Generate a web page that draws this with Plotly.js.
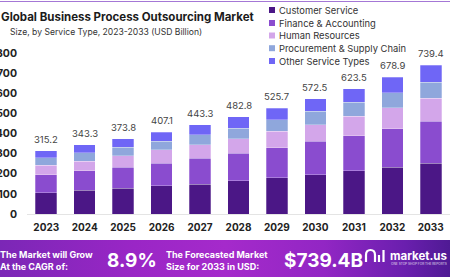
<!DOCTYPE html>
<html>
<head>
<meta charset="utf-8">
<script src="https://cdn.plot.ly/plotly-3.0.1.min.js"></script>
<style>
  html, body { margin: 0; padding: 0; background: #ffffff; }
  #chart {
    width: 450px; height: 280px; position: relative;
    background:
      linear-gradient(90deg, #7b27b6 0%, #9a26c6 30%, #a52acb 50%, #9226c4 72%, #6a1fae 90%, #4f1a94 100%) 0 240px / 100% 37px no-repeat,
      #ffffff;
  }
</style>
</head>
<body>
<div id="chart"></div>
<script>
// Market size by service type, USD billion
const years = ['2023','2024','2025','2026','2027','2028','2029','2030','2031','2032','2033'];
const customerService   = [106, 119, 128, 140, 149, 165, 181, 195, 214, 232, 251];
const financeAccounting = [88, 96, 105, 113, 128, 136, 149, 166, 176, 192, 210];
const humanResources    = [48, 48, 57, 66, 68, 73, 80, 83, 95, 104, 113];
const procurementSupply = [38, 41, 41, 43, 48, 53, 58, 66, 70, 75, 81];
const otherServices     = [35.2, 39.3, 42.8, 45.1, 50.3, 55.8, 57.7, 62.5, 68.5, 75.9, 84.4];

const seriesNames  = ['Customer Service', 'Finance & Accounting', 'Human Resources',
                      'Procurement & Supply Chain', 'Other Service Types'];
const seriesValues = [customerService, financeAccounting, humanResources, procurementSupply, otherServices];
const seriesColors = ['#4b1786', '#8a4ccf', '#d3a6ea', '#8fa7dc', '#6f66f6'];

const yTicks = [0, 100, 200, 300, 400, 500, 600, 700, 800];

// Stack totals shown above each bar
const totals = years.map((_, i) => seriesValues.reduce((s, arr) => s + arr[i], 0));

// Page geometry (pixels) -> paper coordinates
const W = 450, H = 280, ML = 27, MR = 0, MT = 53, MB = 66;
const PW = W - ML - MR, PH = H - MT - MB;
const px = x => (x - ML) / PW;
const py = y => (H - MB - y) / PH;

const FONT = 'Inter, "Open Sans", sans-serif';

const traces = seriesNames.map((name, k) => ({
  type: 'bar',
  name: name,
  x: years,
  y: seriesValues[k],
  marker: { color: seriesColors[k], line: { color: 'rgba(255,255,255,0.45)', width: 0.6 } },
  hoverinfo: 'x+y+name',
  showlegend: false
}));

const annotations = [];
const shapes = [];

// Total value labels (category axis: positioned by category index)
years.forEach((yr, i) => {
  annotations.push({
    x: i, y: totals[i], xref: 'x', yref: 'y',
    text: totals[i].toFixed(1), showarrow: false,
    yanchor: 'bottom', yshift: 4,
    font: { family: FONT, size: 9.5, color: '#444444' }
  });
});

// Title and subtitle
annotations.push({
  x: px(-1), y: py(17), xref: 'paper', yref: 'paper', xanchor: 'left', yanchor: 'middle',
  text: '<b>Global Business Process Outsourcing Market</b>', showarrow: false,
  font: { family: FONT, size: 11.5, color: '#1b1b1b' }
});
annotations.push({
  x: px(8), y: py(32), xref: 'paper', yref: 'paper', xanchor: 'left', yanchor: 'middle',
  text: 'Size, by Service Type, 2023-2033 (USD Billion)', showarrow: false,
  font: { family: FONT, size: 8.6, color: '#333333' }
});

// Legend drawn as swatches + labels
const legendY = [10, 23, 35.5, 48.2, 61];
seriesNames.forEach((name, k) => {
  const cy = legendY[k];
  shapes.push({
    type: 'rect', xref: 'paper', yref: 'paper',
    x0: px(269), x1: px(275), y0: py(cy + 3), y1: py(cy - 3),
    fillcolor: seriesColors[k], line: { width: 0 }
  });
  annotations.push({
    x: px(277), y: py(cy), xref: 'paper', yref: 'paper', xanchor: 'left', yanchor: 'middle',
    text: name, showarrow: false,
    font: { family: FONT, size: 9.4, color: '#333333' }
  });
});

// Thin accent line across the top
shapes.push({
  type: 'line', xref: 'paper', yref: 'paper',
  x0: px(0), x1: px(450), y0: py(1.5), y1: py(1.5),
  line: { color: '#a477d6', width: 1.2 }
});

// Bottom banner texts
const bannerWhite = c => ({ family: FONT, size: c, color: '#ffffff' });
annotations.push({
  x: px(-2), y: py(260), xref: 'paper', yref: 'paper', xanchor: 'left', yanchor: 'middle',
  text: '<b>The Market will Grow<br>At the CAGR of:</b>', showarrow: false, align: 'left',
  font: bannerWhite(9)
});
annotations.push({
  x: px(131.5), y: py(260), xref: 'paper', yref: 'paper', xanchor: 'center', yanchor: 'middle',
  text: '<b>8.9%</b>', showarrow: false, font: bannerWhite(19)
});
annotations.push({
  x: px(164), y: py(260), xref: 'paper', yref: 'paper', xanchor: 'left', yanchor: 'middle',
  text: '<b>The Forecasted Market<br>Size for 2033 in USD:</b>', showarrow: false, align: 'left',
  font: bannerWhite(9)
});
annotations.push({
  x: px(282), y: py(260), xref: 'paper', yref: 'paper', xanchor: 'left', yanchor: 'middle',
  text: '<b>$739.4B</b>', showarrow: false, font: bannerWhite(19)
});
annotations.push({
  x: px(388), y: py(256), xref: 'paper', yref: 'paper', xanchor: 'left', yanchor: 'middle',
  text: '<b>market.us</b>', showarrow: false, font: bannerWhite(11.5)
});
annotations.push({
  x: px(389), y: py(263.5), xref: 'paper', yref: 'paper', xanchor: 'left', yanchor: 'middle',
  text: 'ONE STOP SHOP FOR THE REPORTS', showarrow: false,
  font: { family: FONT, size: 3.2, color: 'rgba(255,255,255,0.85)' }
});

// market.us logo mark: arch plus two bars
shapes.push({
  type: 'path', xref: 'paper', yref: 'paper',
  path: `M ${px(366)} ${py(262)} L ${px(366)} ${py(255)} Q ${px(366)} ${py(250)} ${px(370.5)} ${py(250)} Q ${px(375)} ${py(250)} ${px(375)} ${py(255)} L ${px(375)} ${py(262)}`,
  line: { color: '#ffffff', width: 2.2 }, fillcolor: 'rgba(0,0,0,0)'
});
shapes.push({ type: 'line', xref: 'paper', yref: 'paper', x0: px(379), x1: px(379), y0: py(255), y1: py(262), line: { color: '#ffffff', width: 2.2 } });
shapes.push({ type: 'line', xref: 'paper', yref: 'paper', x0: px(383.5), x1: px(383.5), y0: py(250), y1: py(262), line: { color: '#ffffff', width: 2.2 } });

const layout = {
  width: W, height: H,
  margin: { l: ML, r: MR, t: MT, b: MB, pad: 0 },
  paper_bgcolor: 'rgba(0,0,0,0)',
  plot_bgcolor: 'rgba(0,0,0,0)',
  barmode: 'stack',
  bargap: 0.44,
  showlegend: false,
  font: { family: FONT },
  xaxis: {
    type: 'category',
    range: [-0.5, years.length - 0.5],
    showgrid: false, zeroline: false,
    showline: true, linecolor: '#e4e4e4', linewidth: 1,
    ticks: '', ticklabelstandoff: 4,
    tickfont: { family: FONT, size: 10, color: '#222222', weight: 'bold' }
  },
  yaxis: {
    range: [0, 800],
    tickvals: yTicks,
    ticktext: yTicks.map(String),
    showgrid: false, zeroline: false, showline: false,
    ticks: '', ticklabelstandoff: 9,
    tickfont: { family: FONT, size: 10.5, color: '#222222', weight: 'bold' }
  },
  annotations: annotations,
  shapes: shapes
};

Plotly.newPlot('chart', traces, layout, { displayModeBar: false, staticPlot: true });
</script>
</body>
</html>
